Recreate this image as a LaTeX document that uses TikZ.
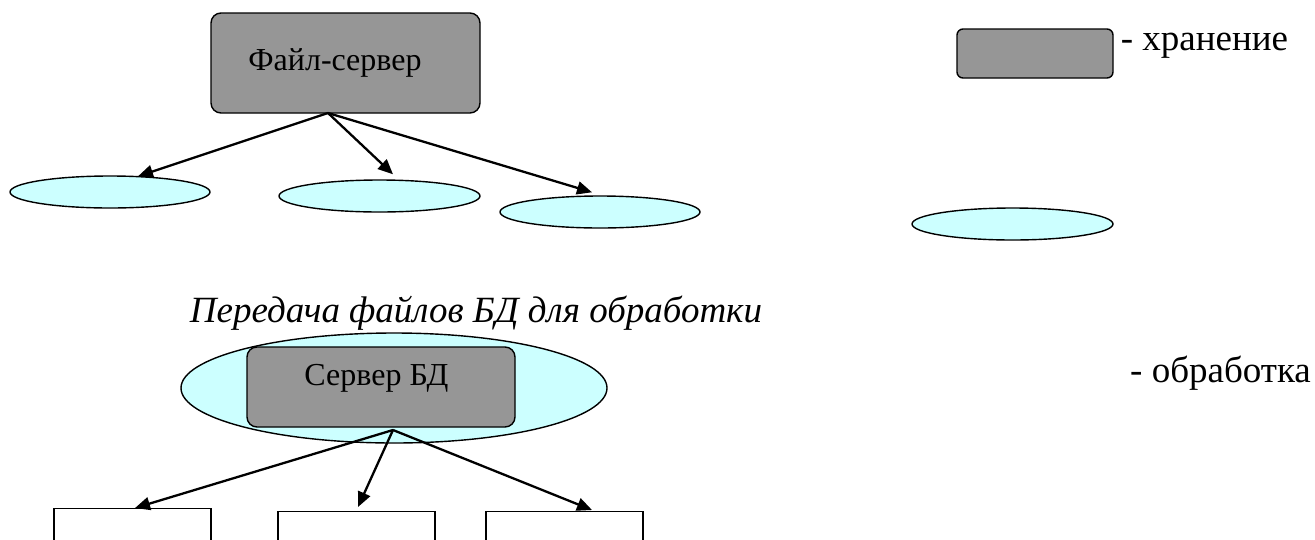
\documentclass[tikz,border=0pt]{standalone}
\usepackage{fontspec}
\setmainfont{Liberation Serif}
\usetikzlibrary{arrows.meta,shapes.geometric,calc}
\definecolor{storegray}{RGB}{150,150,150}
\definecolor{proccyan}{RGB}{204,255,255}
\tikzset{
  storebox/.style={draw=black,line width=1.4pt,fill=storegray,rounded corners=10pt,inner sep=0pt},
  procoval/.style={ellipse,draw=black,line width=1.4pt,fill=proccyan,inner sep=0pt},
  clientbox/.style={rectangle,draw=black,line width=1.4pt,fill=white,inner sep=0pt,anchor=north},
  link/.style={line width=2.3pt,-{Triangle[length=15pt,width=13pt]}},
  boxlabel/.style={font=\fontsize{32}{36}\selectfont,inner sep=0pt},
  legendlabel/.style={font=\fontsize{37}{42}\selectfont,anchor=west,inner sep=0pt},
}
\begin{document}
\begin{tikzpicture}[x=1pt,y=-1pt]
\useasboundingbox (0,0) rectangle (1315,539);
\clip (0,0) rectangle (1315,539);

% file server and its workstations
\node[storebox,minimum width=269pt,minimum height=100pt] (fs) at (345.5,63) {};
\node[boxlabel] (fslabel) at (335,63) {Файл-сервер};
\coordinate (fsout) at (328,113);
\node[procoval,minimum width=200pt,minimum height=32pt] (e1) at (110,192) {};
\node[procoval,minimum width=201pt,minimum height=32pt] (e2) at (379.5,196) {};
\node[procoval,minimum width=200pt,minimum height=32pt] (e3) at (600,212) {};
\draw[link] (fsout) -- ($(e1.north)+(28,1)$);
\draw[link] (fsout) -- ($(e2.north)+(13.5,-5)$);
\draw[link] (fsout) -- ($(e3.north)+(-8,-3)$);

% caption
\node[font=\fontsize{37}{42}\selectfont\itshape,inner sep=0pt] (cap) at (476,313)
  {Передача файлов БД для обработки};

% database server inside its processing oval
\node[procoval,minimum width=426pt,minimum height=110pt] (dbo) at (394,388) {};
\node[storebox,minimum width=268pt,minimum height=80pt] (db) at (381,387) {};
\node[boxlabel] (dblabel) at (376.5,378) {Сервер БД};
\coordinate (dbout) at (393,430);
\node[clientbox,minimum width=157pt,minimum height=60pt] (c1) at (132.5,508) {};
\node[clientbox,minimum width=157pt,minimum height=60pt] (c2) at (356.5,511) {};
\node[clientbox,minimum width=157pt,minimum height=60pt] (c3) at (564.5,511) {};
\draw[link] (dbout) -- ($(c1.north)+(2.5,0)$);
\draw[link] (dbout) -- ($(c2.north)+(1.5,-4)$);
\draw[link] (dbout) -- ($(c3.north)+(27.5,-1)$);

% legend
\node[storebox,rounded corners=6pt,minimum width=156pt,minimum height=49pt] (lstore) at (1035,53.5) {};
\node[legendlabel] (lstoretext) at ($(lstore.east)+(7,-8)$) {- хранение};
\node[procoval,minimum width=201pt,minimum height=32pt] (lproc) at (1012.5,224) {};
\node[legendlabel] (lproctext) at (1130,373) {- обработка};
\end{tikzpicture}
\end{document}
